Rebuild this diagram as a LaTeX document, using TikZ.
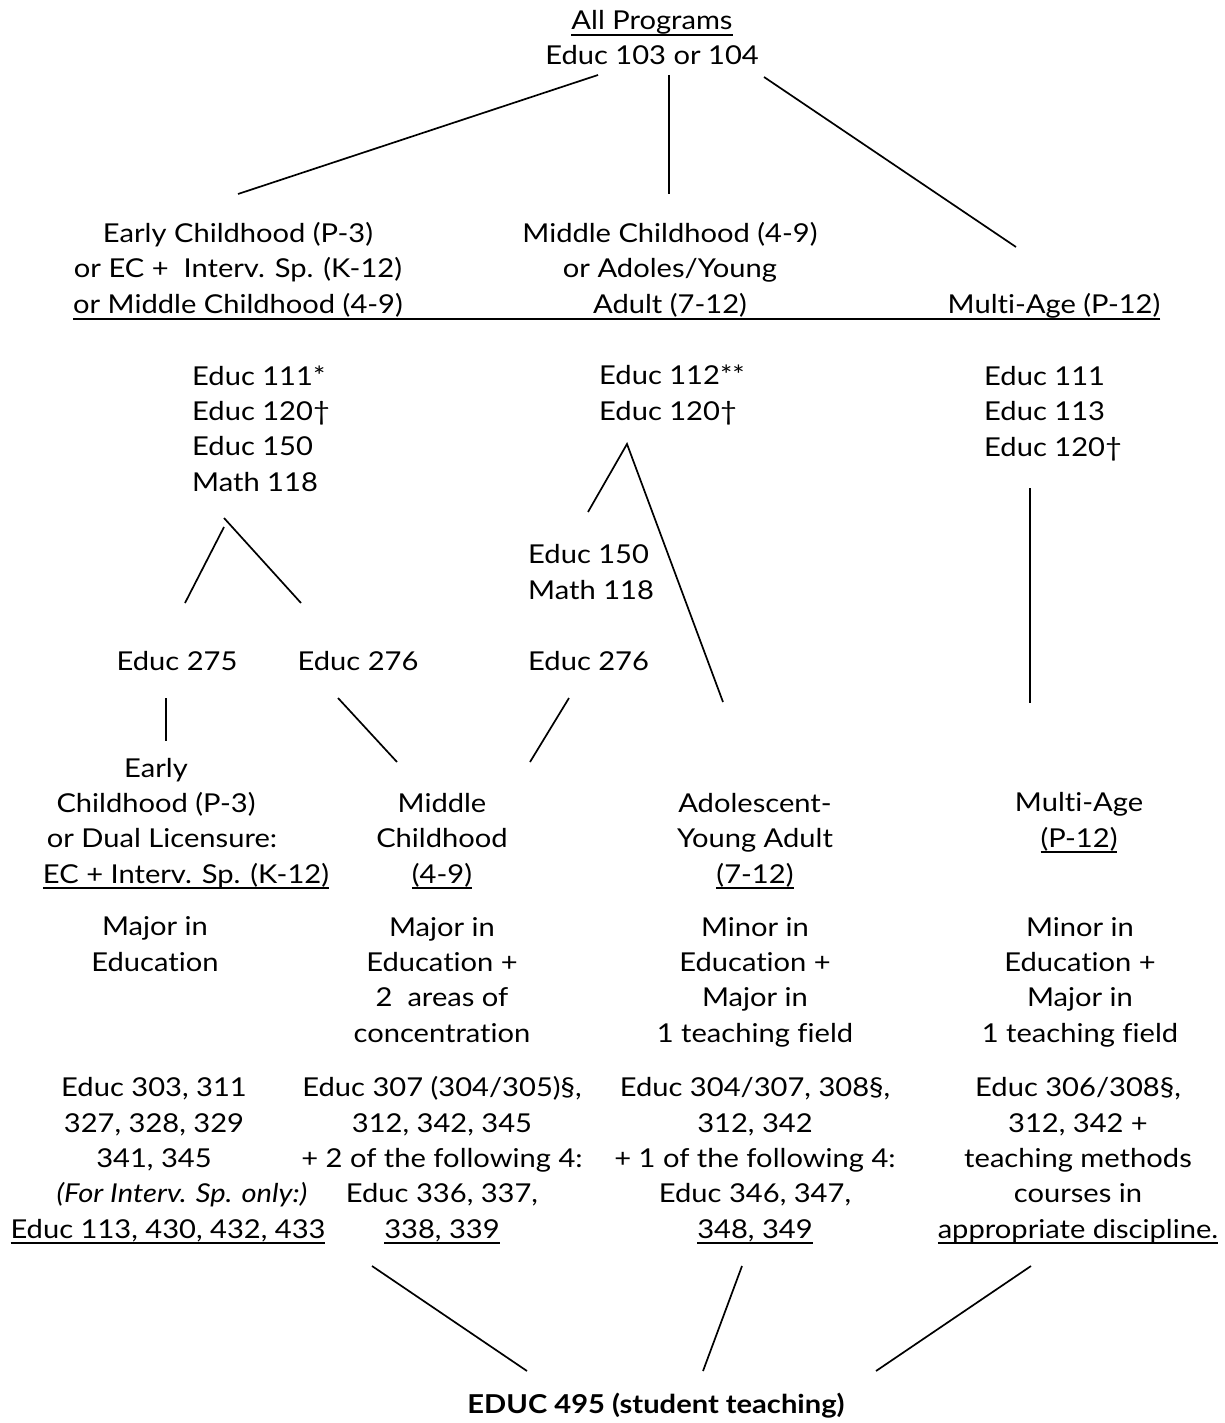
\documentclass[tikz,border=0pt]{standalone}
\usepackage{fontspec}
\setmainfont[FakeStretch=1.12, Ligatures=NoCommon]{Lato}
\usepackage{tikz}
\usetikzlibrary{calc}
\usetikzlibrary{positioning}

\newcommand{\ulbox}[1]{\setbox0=\hbox{#1}\rlap{\rule[-6pt]{\wd0}{1.8pt}}\box0}

\begin{document}
\begin{tikzpicture}[x=1pt, y=-1pt,
  txt/.style={inner sep=0pt, anchor=base, align=center, font=\fontsize{26}{35.3}\selectfont},
  lft/.style={txt, anchor=base west, align=left},
  lnk/.style={line width=1.7pt}]

  \useasboundingbox (0,0) rectangle (1225,1423);

%%%%%%%%%%%% top (base = last line)
  \node[txt] (prog) at (652, 65) {\ulbox{All Programs}\\Educ 103 or 104};

  \coordinate (prog-l) at (598, 75);
  \coordinate (prog-m) at (669, 75);
  \coordinate (prog-r) at (764, 77);
  \coordinate (early-t) at (238, 194);
  \coordinate (midad-t) at (669, 194);
  \coordinate (ma-t) at (1016, 247);

  \draw[lnk] (prog-l) -- (early-t);
  \draw[lnk] (prog-m) -- (midad-t);
  \draw[lnk] (prog-r) -- (ma-t);

%%%%%%%%%%%% programs
  \node[txt] (early) at (238, 313) {Early Childhood (P-3)\\or EC +\ \ Interv. Sp. (K-12)\\or Middle Childhood (4-9)};
  \node[txt] (midad) at (670, 313) {Middle Childhood (4-9)\\or Adoles/Young\\Adult (7-12)};
  \node[txt] (ma) at (1054, 313) {Multi-Age (P-12)};
  \draw[line width=1.8pt] ([yshift=-6pt]ma.base east) -- ([yshift=-6pt]ma.base east -| early.west);

%%%%%%%%%%%% first courses
  \node[lft] (c111) at (192, 491) {Educ 111*\\Educ 120†\\Educ 150\\Math 118};
  \node[lft] (c112) at (599, 420) {Educ 112**\\Educ 120†};
  \node[lft] (c113) at (984, 456) {Educ 111\\Educ 113\\Educ 120†};

  \coordinate (c111-a) at (224, 518);
  \coordinate (c111-b) at (224, 527);
  \coordinate (e275-t) at (185, 603);
  \coordinate (e276-t) at (301, 603);
  \draw[lnk] (c111-b) -- (e275-t);
  \draw[lnk] (c111-a) -- (e276-t);

  \coordinate (c112-a) at (627, 444);
  \coordinate (c150-t) at (588, 512);
  \coordinate (aya-t) at (723, 702);
  \draw[lnk] (c150-t) -- (c112-a) -- (aya-t);

  \coordinate (c113-a) at (1030, 488);
  \coordinate (mag-t) at (1030, 703);
  \draw[lnk] (c113-a) -- (mag-t);

  \node[lft] (c150) at (528, 599) {Educ 150\\Math 118};

%%%%%%%%%%%% second courses
  \node[txt] (e275) at (177, 670) {Educ 275};
  \node[txt] (e276a) at (358, 670) {Educ 276};
  \node[lft] (e276b) at (528, 670) {Educ 276};

  \coordinate (e275-b) at (166, 698);
  \coordinate (ec-t) at (166, 741);
  \coordinate (e276a-b) at (338, 698);
  \coordinate (mc-tl) at (397, 762);
  \coordinate (e276b-b) at (569, 698);
  \coordinate (mc-tr) at (530, 762);
  \draw[lnk] (e275-b) -- (ec-t);
  \draw[lnk] (e276a-b) -- (mc-tl);
  \draw[lnk] (e276b-b) -- (mc-tr);

%%%%%%%%%%%% licenses
  \node[txt] (ec) at (156, 883) {Early\\Childhood (P-3)\\\hspace*{12pt}or Dual Licensure:\\\hspace*{60pt}\ulbox{EC + Interv. Sp. (K-12)}};
  \node[txt] (mc) at (442, 883) {Middle\\Childhood\\\ulbox{(4-9)}};
  \node[txt] (aya) at (755, 883) {Adolescent-\\Young Adult\\\ulbox{(7-12)}};
  \node[txt] (mag) at (1079, 847) {Multi-Age\\\ulbox{(P-12)}};

%%%%%%%%%%%% majors
  \node[txt] (maj1) at (155, 971) {Major in\\Education};
  \node[txt] (maj2) at (442, 1042) {Major in\\Education +\\2\ \ areas of\\concentration};
  \node[txt] (min3) at (755, 1042) {Minor in\\Education +\\Major in\\1 teaching field};
  \node[txt] (min4) at (1080, 1042) {Minor in\\Education +\\Major in\\1 teaching field};

%%%%%%%%%%%% upper courses
  \node[txt] (crs1) at (154, 1238) {Educ 303, 311\\327, 328, 329\\341, 345\\\hspace*{56pt}\textit{(For Interv. Sp. only:)}\\\hspace*{28pt}\ulbox{Educ 113, 430, 432, 433}};
  \node[txt] (crs2) at (442, 1238) {Educ 307 (304/305)§,\\312, 342, 345\\+ 2 of the following 4:\\Educ 336, 337,\\\ulbox{338, 339}};
  \node[txt] (crs3) at (755, 1238) {Educ 304/307, 308§,\\312, 342\\+ 1 of the following 4:\\Educ 346, 347,\\\ulbox{348, 349}};
  \node[txt] (crs4) at (1078, 1238) {Educ 306/308§,\\312, 342 +\\teaching methods\\courses in\\\ulbox{appropriate discipline.}};

%%%%%%%%%%%% student teaching
  \node[txt, font=\fontsize{26}{35.3}\selectfont\bfseries] (st) at (656, 1413) {EDUC 495 (student teaching)};

  \coordinate (crs2-b) at (372, 1266);
  \coordinate (crs3-b) at (742, 1266);
  \coordinate (crs4-b) at (1031, 1266);
  \coordinate (st-l) at (527, 1371);
  \coordinate (st-m) at (703, 1371);
  \coordinate (st-r) at (876, 1371);
  \draw[lnk] (crs2-b) -- (st-l);
  \draw[lnk] (crs3-b) -- (st-m);
  \draw[lnk] (crs4-b) -- (st-r);

\end{tikzpicture}
\end{document}
